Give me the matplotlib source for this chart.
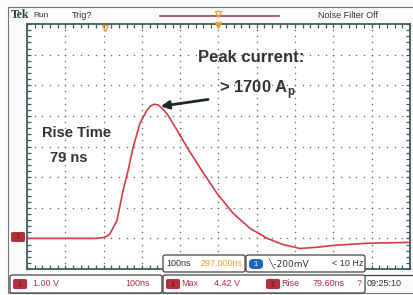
import matplotlib
matplotlib.use("Agg")
import matplotlib.pyplot as plt
from matplotlib import font_manager
from matplotlib.patches import FancyBboxPatch, Rectangle
import numpy as np

# ---------------- data ----------------
time_ns = [-500, -320, -300, -290, -283, -265, -249, -236, -223, -205, -187,
           -178, -168, -158, -145, -132, -119, -82, -48, -4, 38, 82, 127, 168,
           213, 257, 299, 388, 500]
volts = [0.0, 0.0, 0.03, 0.08, 0.16, 0.59, 1.57, 2.22, 2.97, 3.76, 4.18,
         4.32, 4.38, 4.36, 4.22, 4.02, 3.76, 2.97, 2.30, 1.47, 0.82, 0.33,
         0.0, -0.20, -0.33, -0.29, -0.23, -0.16, -0.13]
x_range = [-500, 500]      # 100 ns/div, 10 divisions
y_range = [-1, 7]          # 1 V/div, 8 divisions
peak_label = ["Peak current:", "> 1700 A$_\\mathregular{p}$"]
rise_label = ["Rise Time", "79 ns"]
top_labels = ["Tek", "Run", "Trig?", "Noise Filter Off"]
timebase_labels = ["100ns", "297.000ns"]
trigger_labels = ["1", "\u2572-200mV", "< 10 Hz"]
bottom_labels = ["1.00 V", "100ns", "Max", "4.42 V", "Rise", "79.60ns", "?", "09:25:10"]

# ---------------- fonts ----------------
avail = {f.name for f in font_manager.fontManager.ttflist}
narrow = "Liberation Sans Narrow" if "Liberation Sans Narrow" in avail else "Liberation Sans"
plt.rcParams["font.family"] = [narrow, "DejaVu Sans"]

W, H = 414, 295
fig = plt.figure(figsize=(W / 100, H / 100), dpi=100)
fig.patch.set_facecolor("#fbfbfb")

def fx(px):
    return px / W

def fy(py):
    return 1 - py / H

frame_col = "#3d5c5c"
trace_col = "#d93a48"
badge_col = "#b5303c"
txt_col = "#333333"

# graticule axes
L, R, T, B = 27, 410, 24, 269
ax = fig.add_axes([fx(L), fy(B), (R - L) / W, (B - T) / H])
ax.set_xlim(*x_range)
ax.set_ylim(*y_range)
ax.set_facecolor("white")
for s in ax.spines.values():
    s.set_color(frame_col)
    s.set_linewidth(1.3)

xdiv = (x_range[1] - x_range[0]) / 10
ydiv = (y_range[1] - y_range[0]) / 8
ax.set_xticks(np.arange(x_range[0], x_range[1] + 1e-6, xdiv / 5))
ax.set_yticks(np.arange(y_range[0], y_range[1] + 1e-6, ydiv / 5))
ax.tick_params(direction="in", length=3, width=0.9, color=frame_col,
               top=True, right=True, labelleft=False, labelbottom=False)

# dotted grid
gx = np.arange(x_range[0] + xdiv, x_range[1] - 1e-6, xdiv)
gy = np.arange(y_range[0] + ydiv, y_range[1] - 1e-6, ydiv)
sx = np.arange(x_range[0], x_range[1] + 1e-6, xdiv / 5)
sy = np.arange(y_range[0], y_range[1] + 1e-6, ydiv / 5)
for g in gx:
    ax.scatter(np.full(sy.size, g), sy, s=1.2, color="#707070", lw=0, zorder=1)
for g in gy:
    ax.scatter(sx, np.full(sx.size, g), s=1.2, color="#707070", lw=0, zorder=1)

# trace
ax.plot(time_ns, volts, color=trace_col, lw=1.2, zorder=3,
        solid_joinstyle="round", solid_capstyle="round")

# arrow and annotations
ax.annotate("", xy=(-158, 4.3), xytext=(-20, 4.55),
            arrowprops=dict(arrowstyle="-|>", color="#1e2a2a", lw=2.0,
                            mutation_scale=12), zorder=4)
fig.text(fx(251), fy(58), peak_label[0], fontsize=12, color=txt_col,
         ha="center", va="center", fontweight="bold")
fig.text(fx(257), fy(90), peak_label[1], fontsize=12, color=txt_col,
         ha="center", va="center", fontweight="bold")
fig.text(fx(42), fy(133), rise_label[0], fontsize=10.5, color=txt_col,
         ha="left", va="center", fontweight="bold")
fig.text(fx(50), fy(158), rise_label[1], fontsize=10.5, color=txt_col,
         ha="left", va="center", fontweight="bold")

# outer frame
fig.add_artist(Rectangle((fx(8), fy(293)), fx(414 - 8), (293 - 7) / H,
                         fill=False, ec="#777777", lw=0.8))

# top bar
fig.text(fx(11), fy(15), top_labels[0], fontsize=8.5, fontweight="bold",
         family=["Liberation Serif", "DejaVu Serif"], color="#2a4040", va="center")
fig.text(fx(33), fy(15.5), top_labels[1], fontsize=6, color=txt_col, va="center")
fig.text(fx(72), fy(15.5), top_labels[2], fontsize=6.5, color=txt_col, va="center")
fig.text(fx(318), fy(15.5), top_labels[3], fontsize=6.5, color=txt_col, va="center")
fig.add_artist(plt.Line2D([fx(160), fx(279)], [fy(16), fy(16)],
                          color="#a04058", lw=1.2))
fig.add_artist(plt.Line2D([fx(218.5)], [fy(14)], marker="v", color="#f0a030",
                          ms=5, mfc="none", mew=1))
fig.add_artist(plt.Line2D([fx(218.5)], [fy(25)], marker="v", color="#f0a030",
                          ms=4))
fig.add_artist(plt.Line2D([fx(105)], [fy(28)], marker="v", color="#f0a030",
                          ms=4, mfc="none", mew=1))

# badges
def badge(x0, y0, w, h, label, fc=badge_col, tc="#5a1018"):
    fig.add_artist(FancyBboxPatch((fx(x0), fy(y0 + h)), w / W, h / H,
                                  boxstyle="round,pad=0,rounding_size=0.005",
                                  fc=fc, ec="none"))
    fig.text(fx(x0 + w / 2), fy(y0 + h / 2), label, fontsize=5.5, color=tc,
             ha="center", va="center")

badge(11, 232, 14, 10, "1")

# bottom boxes
def box(x0, y0, x1, y1):
    fig.add_artist(FancyBboxPatch((fx(x0), fy(y1)), (x1 - x0) / W, (y1 - y0) / H,
                                  boxstyle="round,pad=0,rounding_size=0.006",
                                  fc="white", ec="#444444", lw=0.9))

box(163, 255, 245, 272)
box(246, 255, 365, 272)
box(10, 275, 162, 293)
box(163, 275, 365, 293)

fs = 6.5
fig.text(fx(166), fy(263.5), timebase_labels[0], fontsize=fs, color=txt_col, va="center")
fig.text(fx(243), fy(263.5), timebase_labels[1], fontsize=fs, color="#f0a030",
         va="center", ha="right")
fig.add_artist(FancyBboxPatch((fx(249), fy(269)), 14 / W, 10 / H,
                              boxstyle="round,pad=0,rounding_size=0.012",
                              fc="#1f64c0", ec="none"))
fig.text(fx(256), fy(264), trigger_labels[0], fontsize=5.5, color="white",
         ha="center", va="center")
fig.text(fx(268), fy(263.5), trigger_labels[1], fontsize=fs, color=txt_col,
         va="center", family=["DejaVu Sans"])
fig.text(fx(363), fy(263.5), trigger_labels[2], fontsize=fs, color=txt_col,
         va="center", ha="right")

badge(13, 279, 14, 10, "1")
fig.text(fx(33), fy(284), bottom_labels[0], fontsize=fs, color="#b03040", va="center")
fig.text(fx(150), fy(284), bottom_labels[1], fontsize=fs, color="#b03040",
         va="center", ha="right")
badge(166, 279, 14, 10, "1")
fig.text(fx(181), fy(284), bottom_labels[2], fontsize=fs, color="#b03040", va="center")
fig.text(fx(240), fy(284), bottom_labels[3], fontsize=fs, color="#b03040",
         va="center", ha="right")
badge(266, 279, 14, 10, "1")
fig.text(fx(281), fy(284), bottom_labels[4], fontsize=fs, color="#b03040", va="center")
fig.text(fx(345), fy(284), bottom_labels[5], fontsize=fs, color="#b03040",
         va="center", ha="right")
fig.text(fx(359), fy(284), bottom_labels[6], fontsize=fs, color="#b03040",
         va="center", ha="center")
fig.text(fx(367), fy(284), bottom_labels[7], fontsize=fs, color=txt_col, va="center")
fig.add_artist(plt.Line2D([fx(365), fx(414)], [fy(275), fy(275)],
                          color="#444444", lw=0.9))

fig.savefig("out.png", dpi=100, facecolor=fig.get_facecolor())
